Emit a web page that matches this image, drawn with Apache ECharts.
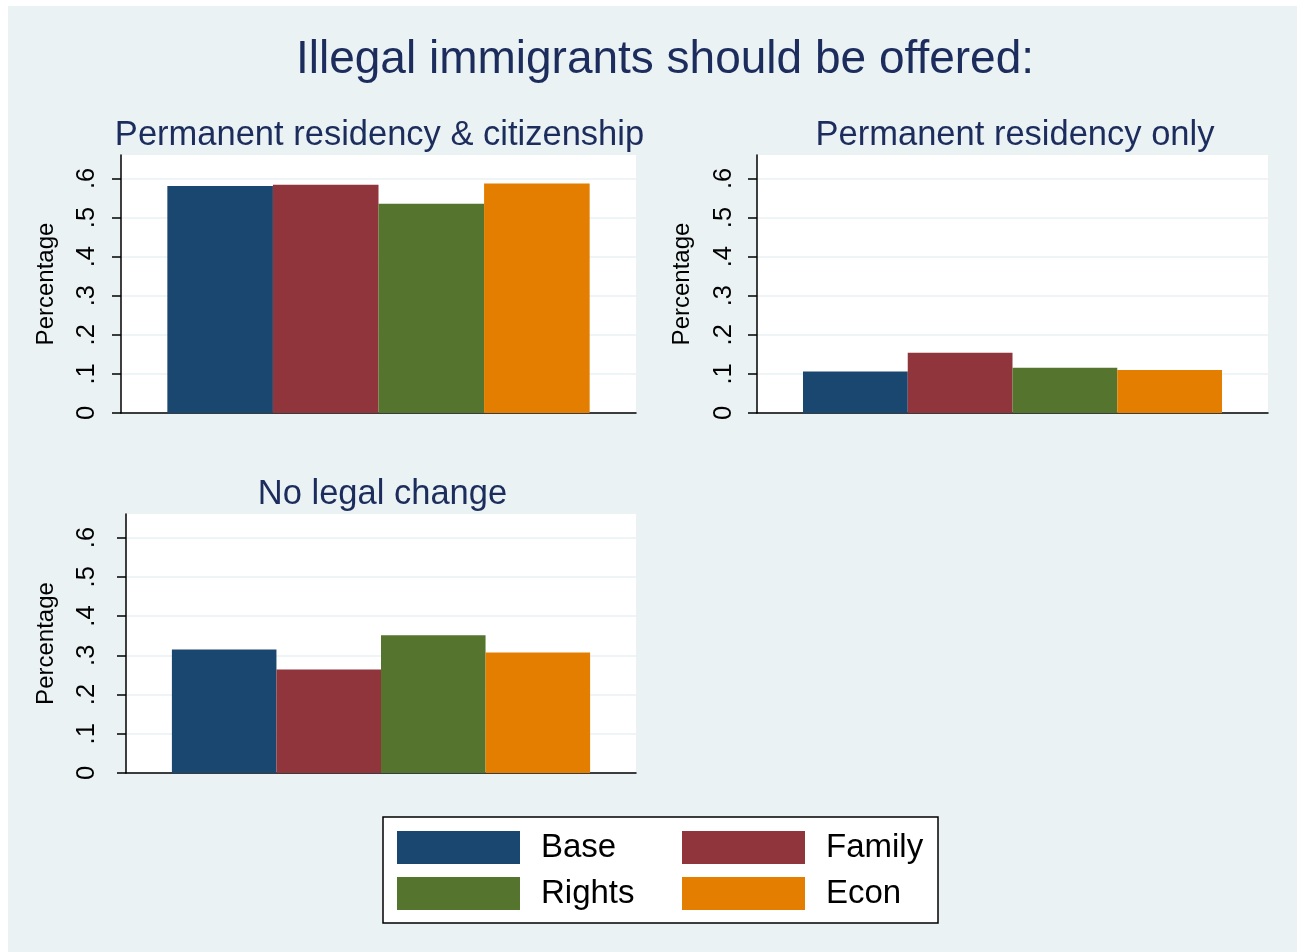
<!DOCTYPE html>
<html>
<head>
<meta charset="utf-8">
<script src="https://cdn.jsdelivr.net/npm/echarts@6/dist/echarts.min.js"></script>
<style>
html,body{margin:0;padding:0;background:#fff;}
#bg{position:absolute;left:8px;top:6px;right:0;bottom:0;background:#eaf2f3;}
#chart{position:absolute;left:0;top:0;width:1297px;height:952px;}
</style>
</head>
<body>
<div id="bg"></div>
<div id="chart"></div>
<script>
// ---- data ----
const groups = ['Base', 'Family', 'Rights', 'Econ'];
const groupColors = ['#1a476f', '#90353b', '#55752f', '#e37e00'];
const mainTitle = 'Illegal immigrants should be offered:';
const panelTitles = ['Permanent residency & citizenship', 'Permanent residency only', 'No legal change'];
const citizenship = [0.581, 0.584, 0.535, 0.587];
const residencyOnly = [0.106, 0.154, 0.116, 0.110];
const noChange = [0.315, 0.264, 0.351, 0.307];
const yTicks = [0, 0.1, 0.2, 0.3, 0.4, 0.5, 0.6];
const yTickLabels = ['0', '.1', '.2', '.3', '.4', '.5', '.6'];
const yTitle = 'Percentage';

const panelValues = [citizenship, residencyOnly, noChange];

// ---- layout ----
const FONT = '"Liberation Sans", Arial, sans-serif';
const grids = [
  {left: 121, top: 155, width: 515, height: 258},
  {left: 757, top: 155, width: 511, height: 258},
  {left: 126, top: 514, width: 510, height: 259}
];
const labelMargins = [21, 20, 26];
const nameGaps = [63, 63, 68];
const titlePos = [
  {x: 374.5, y: 113},
  {x: 1010, y: 113},
  {x: 377.5, y: 472}
];

const option = {
  backgroundColor: 'transparent',
  animation: false,
  textStyle: {fontFamily: FONT},
  title: [
    {text: mainTitle, left: 660, top: 32, textAlign: 'center',
     textStyle: {fontFamily: FONT, fontSize: 46, fontWeight: 'normal', color: '#1c2c5c'}}
  ].concat(panelTitles.map((t, i) => ({
    text: t, left: titlePos[i].x, top: titlePos[i].y, textAlign: 'center',
    textStyle: {fontFamily: FONT, fontSize: 34.5, fontWeight: 'normal', color: '#1c2c5c'}
  }))),
  grid: grids.map(g => Object.assign({show: true, backgroundColor: '#ffffff', borderWidth: 0, containLabel: false}, g)),
  xAxis: grids.map((g, i) => ({
    type: 'category', gridIndex: i, data: [''],
    axisLine: {show: true, lineStyle: {color: '#000', width: 1.5}},
    axisTick: {show: false}, axisLabel: {show: false}, splitLine: {show: false}
  })),
  yAxis: grids.map((g, i) => ({
    type: 'value', gridIndex: i, min: 0, max: 0.66, interval: 0.1,
    name: yTitle, nameLocation: 'middle', nameGap: nameGaps[i], nameRotate: 90,
    nameTextStyle: {fontFamily: FONT, fontSize: 24, color: '#000'},
    axisLine: {show: true, lineStyle: {color: '#000', width: 1.5}},
    axisTick: {show: true, length: 9, lineStyle: {color: '#000', width: 1.5}, customValues: yTicks},
    axisLabel: {show: true, rotate: 90, margin: labelMargins[i], fontFamily: FONT, fontSize: 25.5, color: '#000',
      customValues: yTicks,
      formatter: v => {
        const k = yTicks.findIndex(t => Math.abs(t - v) < 1e-6);
        return k >= 0 ? yTickLabels[k] : '';
      }},
    splitLine: {show: true, lineStyle: {color: '#eaf2f3', width: 1.5}}
  })),
  legend: groups.map((name, k) => ({
    data: [name],
    left: k % 2 === 0 ? 397 : 682,
    top: k < 2 ? 829.5 : 875.5,
    padding: 0, z: 10,
    icon: 'rect', itemWidth: 123, itemHeight: 33,
    selectedMode: false,
    textStyle: {fontFamily: FONT, fontSize: 33, color: '#000', lineHeight: 33, padding: [3, 0, 0, 16]}
  })),
  graphic: [{
    type: 'rect', z: 1,
    shape: {x: 383, y: 817, width: 555, height: 106},
    style: {fill: '#ffffff', stroke: '#000', lineWidth: 1.5}
  }],
  series: []
};

panelValues.forEach((vals, p) => {
  groups.forEach((name, k) => {
    option.series.push({
      type: 'bar', name: name, xAxisIndex: p, yAxisIndex: p,
      data: [vals[k]],
      barGap: '0%', barCategoryGap: '18%',
      itemStyle: {color: groupColors[k]}
    });
  });
});

const chart = echarts.init(document.getElementById('chart'), null, {renderer: 'canvas'});
chart.setOption(option);
</script>
</body>
</html>
